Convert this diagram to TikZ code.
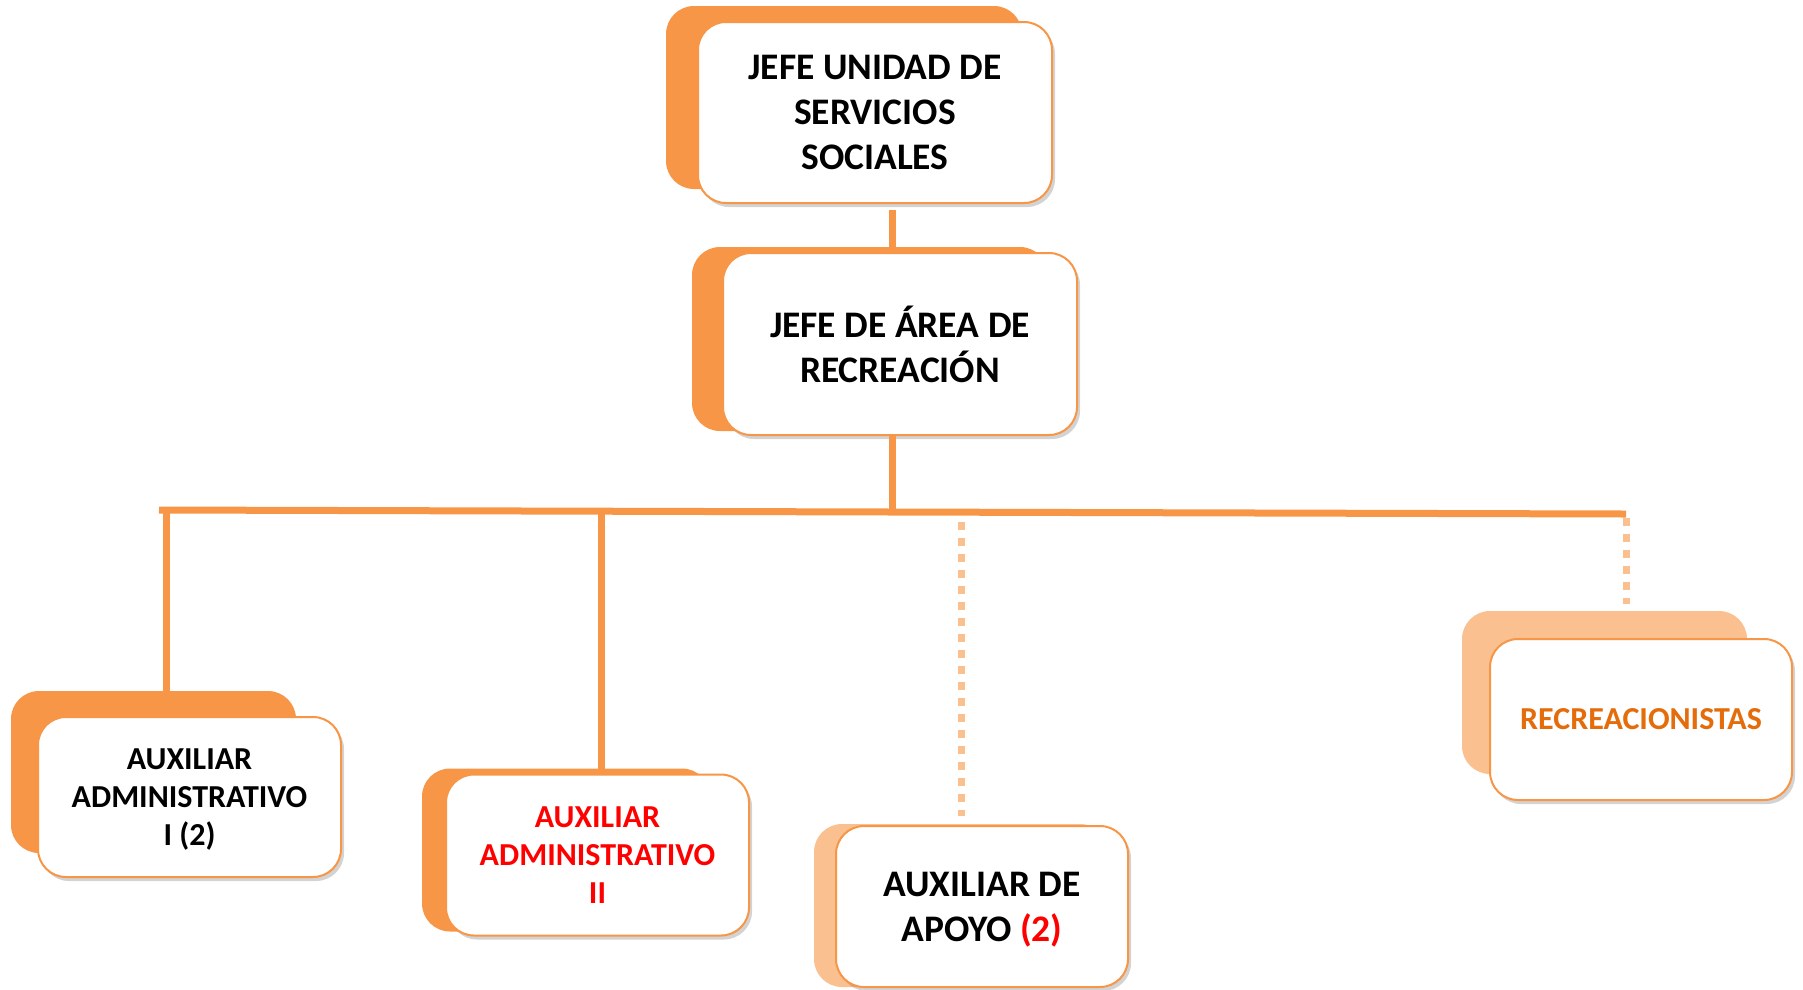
\documentclass[tikz,border=0pt]{standalone}
\usepackage{fontspec}
\setmainfont{Carlito}
\usetikzlibrary{shadows,backgrounds}
\definecolor{naranja}{HTML}{F79646}
\definecolor{naranjaclaro}{HTML}{FAC090}
\definecolor{naranjaosc}{HTML}{E46C0A}
\begin{document}
\begin{tikzpicture}[x=1pt,y=-1pt]
\tikzstyle{every node}+=[inner sep=0pt]
\tikzstyle{caja}=[draw=naranja,line width=2pt,fill=white,rounded corners=28pt,align=center,
  drop shadow={shadow xshift=3pt,shadow yshift=-4pt,opacity=.35,fill=black!50}]
\tikzstyle{grande}=[font=\fontsize{37.5}{45}\selectfont\bfseries]
\tikzstyle{chica}=[font=\fontsize{32}{38}\selectfont\bfseries]
\tikzstyle{linea}=[naranja,line width=7pt]
\tikzstyle{punteada}=[naranjaclaro,line width=7pt,dash pattern=on 8pt off 8pt]
\useasboundingbox (0,0) rectangle (1803,989);
% cajas
\node[caja,grande,minimum width=354pt,minimum height=181pt] (jefeUnidad) at (875,112.5) {JEFE UNIDAD DE\\SERVICIOS\\SOCIALES};
\node[caja,grande,minimum width=354pt,minimum height=182pt] (jefeArea) at (900,344) {JEFE DE ÁREA DE\\RECREACIÓN};
\node[caja,chica,minimum width=303pt,minimum height=160pt] (auxAdmUno) at (189.5,797) {AUXILIAR\\ADMINISTRATIVO\\I \smash{(2)}};
\node[caja,chica,text=red,minimum width=303pt,minimum height=161pt] (auxAdmDos) at (597.5,855) {AUXILIAR\\ADMINISTRATIVO\\II};
\node[caja,grande,minimum width=292pt,minimum height=161pt] (auxApoyo) at (982,906.5) {AUXILIAR DE\\APOYO {\color{red}\smash{(2)}}};
\node[caja,chica,text=naranjaosc,minimum width=302pt,minimum height=161pt] (recrea) at (1641,719.5) {RECREACIONISTAS};
% fondos detras de las cajas
\begin{pgfonlayer}{background}
\foreach \n/\dx/\dy/\dr/\c in {jefeUnidad/-31/-15/-31/naranja, jefeArea/-30/-5/-30/naranja,
    auxAdmUno/-26/-25/-46/naranja, auxAdmDos/-23/-5/-40/naranja,
    auxApoyo/-21/-1/-21/naranjaclaro, recrea/-27/-27/-46/naranjaclaro}
  \fill[\c,rounded corners=28pt] ([shift={(\dx,\dy)}]\n.north west) rectangle ([shift={(\dr,\dy)}]\n.south east);
\end{pgfonlayer}
% lineas
\coordinate (busIzq) at (159,510);
\coordinate (busDer) at (1626,514);
\coordinate (tronco) at (892,511);
\coordinate (ramaA) at (166,510);
\coordinate (ramaB) at (601,511);
\coordinate (ramaC) at (961,511);
\draw[linea,shorten <=6pt] (jefeUnidad.south -| tronco) -- (jefeArea.north -| tronco);
\draw[linea] (jefeArea.south -| tronco) -- (tronco);
\draw[linea] (busIzq) -- (busDer);
\draw[linea] (ramaA) -- (ramaA |- auxAdmUno.north);
\draw[linea] (ramaB) -- (ramaB |- auxAdmDos.north);
\draw[punteada,shorten <=11pt,shorten >=9pt] (ramaC) -- (ramaC |- auxApoyo.north);
\draw[punteada,shorten <=4pt,shorten >=34pt] (busDer) -- (busDer |- recrea.north);
\end{tikzpicture}
\end{document}
